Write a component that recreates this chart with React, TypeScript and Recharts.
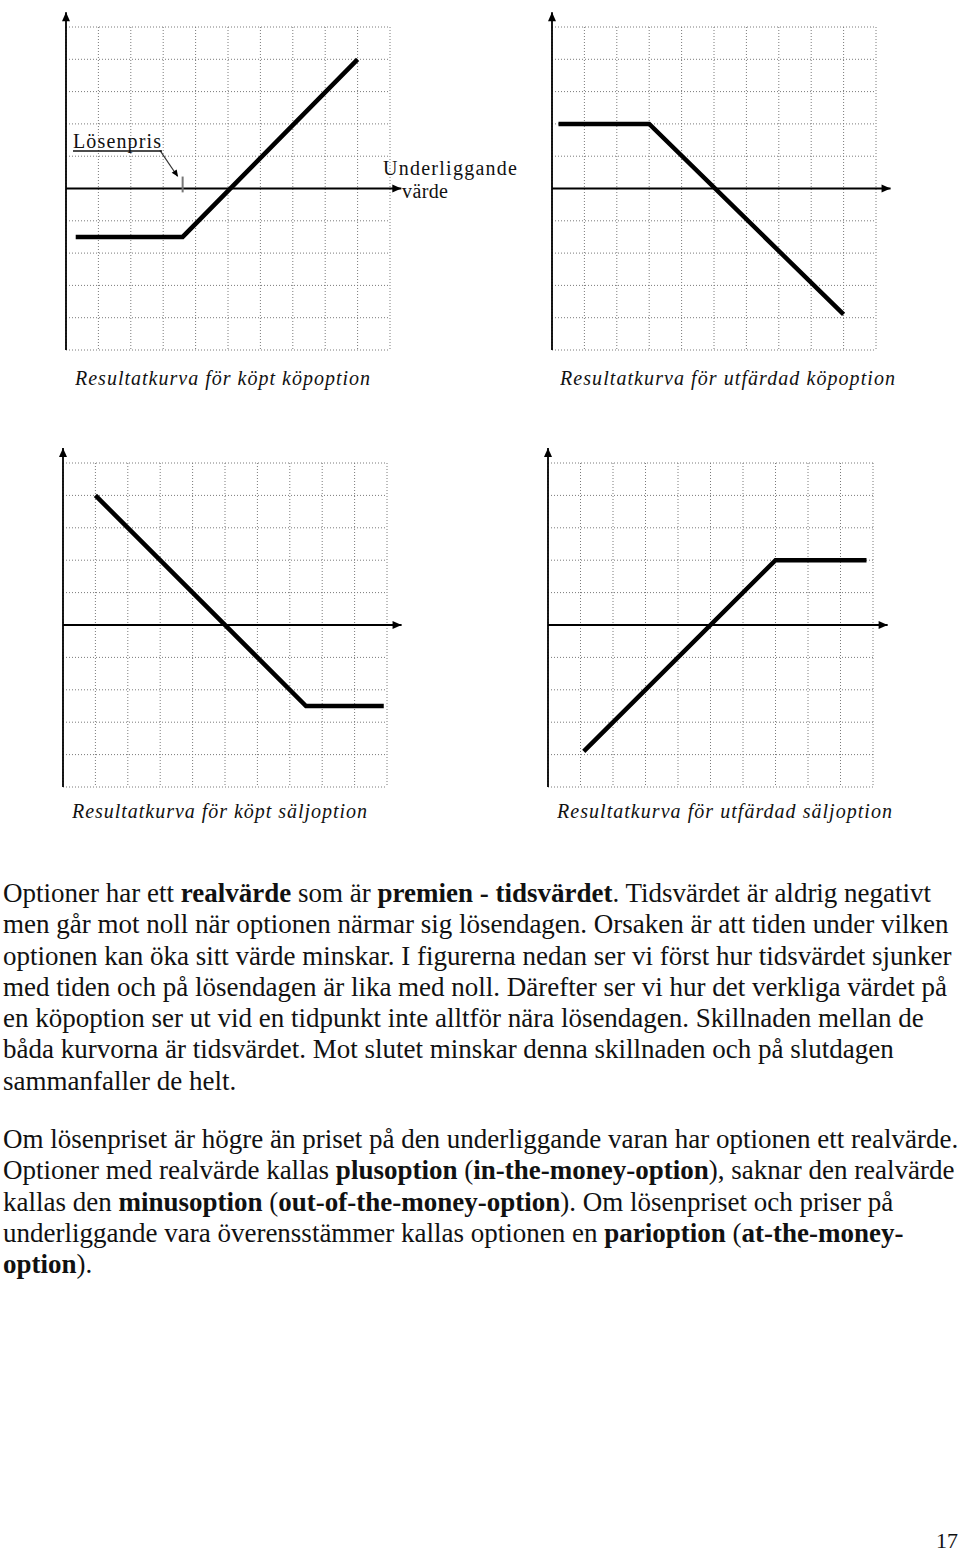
import React from 'react';
import {
  LineChart,
  Line,
  XAxis,
  YAxis,
  CartesianGrid,
  ReferenceLine,
  ReferenceDot
} from 'recharts';

// grid: 10 x 10 squares, zero line in the middle
const gridTicksX = [0, 1, 2, 3, 4, 5, 6, 7, 8, 9, 10];
const gridTicksY = [-5, -4, -3, -2, -1, 0, 1, 2, 3, 4, 5];

// köpt köpoption
const boughtCallX = [0.3, 3.6, 9.0];
const boughtCallY = [-1.5, -1.5, 4.0];
// utfärdad köpoption
const writtenCallX = [0.2, 3.0, 9.0];
const writtenCallY = [2.0, 2.0, -3.9];
// köpt säljoption
const boughtPutX = [1.0, 7.5, 9.9];
const boughtPutY = [4.0, -2.5, -2.5];
// utfärdad säljoption
const writtenPutX = [1.1, 7.0, 9.8];
const writtenPutY = [-3.9, 2.0, 2.0];

const strikeX = 3.6;

const captions = [
  'Resultatkurva för köpt köpoption',
  'Resultatkurva för utfärdad köpoption',
  'Resultatkurva för köpt säljoption',
  'Resultatkurva för utfärdad säljoption'
];

const toPoints = (xs: number[], ys: number[]) => xs.map((x, i) => ({ x, y: ys[i] }));

const M = 20;

const ArrowHead = (angle: number, len = 9, half = 4) => (props: any) => {
  const { cx, cy } = props;
  if (cx == null || cy == null) return null;
  return (
    <polygon
      points={`0,0 ${-len},${-half} ${-len},${half}`}
      transform={`translate(${cx},${cy}) rotate(${angle})`}
      fill="#000"
    />
  );
};

interface ChartProps {
  left: number;
  top: number;
  w: number;
  h: number;
  xs: number[];
  ys: number[];
  xArrow: number;
  strike?: boolean;
}

const PayoffChart: React.FC<ChartProps> = ({ left, top, w, h, xs, ys, xArrow, strike }) => (
  <div style={{ position: 'absolute', left: left - M, top: top - M }}>
    <LineChart
      width={w + 2 * M}
      height={h + 2 * M}
      data={toPoints(xs, ys)}
      margin={{ top: M, right: M, bottom: M, left: M }}
    >
      <XAxis type="number" dataKey="x" domain={[0, 10]} ticks={gridTicksX} hide allowDataOverflow />
      <YAxis type="number" dataKey="y" domain={[-5, 5]} ticks={gridTicksY} hide allowDataOverflow />
      <CartesianGrid stroke="#7a7a7a" strokeDasharray="1 2" />
      <ReferenceLine
        segment={[{ x: 0, y: 0 }, { x: xArrow, y: 0 }]}
        stroke="#000"
        strokeWidth={1.8}
        ifOverflow="visible"
      />
      <ReferenceLine
        segment={[{ x: 0, y: -5 }, { x: 0, y: 5.46 }]}
        stroke="#000"
        strokeWidth={1.8}
        ifOverflow="visible"
      />
      <ReferenceDot x={xArrow} y={0} ifOverflow="visible" shape={ArrowHead(0)} />
      <ReferenceDot x={0} y={5.46} ifOverflow="visible" shape={ArrowHead(-90)} />
      {strike && (
        <ReferenceLine
          segment={[{ x: strikeX, y: -0.12 }, { x: strikeX, y: 0.37 }]}
          stroke="#777"
          strokeWidth={2}
          ifOverflow="visible"
        />
      )}
      {strike && (
        <ReferenceLine
          segment={[{ x: 2.9, y: 1.18 }, { x: 3.44, y: 0.38 }]}
          stroke="#333"
          strokeWidth={1.2}
          ifOverflow="visible"
        />
      )}
      {strike && (
        <ReferenceDot x={3.46} y={0.36} ifOverflow="visible" shape={ArrowHead(56, 7, 3)} />
      )}
      <Line
        type="linear"
        dataKey="y"
        stroke="#000"
        strokeWidth={4.5}
        dot={false}
        activeDot={false}
        isAnimationActive={false}
      />
    </LineChart>
  </div>
);

const Caption: React.FC<{ x: number; y: number; w: number; text: string }> = ({ x, y, w, text }) => (
  <svg style={{ position: 'absolute', left: x, top: y - 20 }} width={w + 4} height={28}>
    <text
      x={0}
      y={20}
      textLength={w}
      lengthAdjust="spacing"
      fontFamily="'Liberation Serif', serif"
      fontStyle="italic"
      fontSize={20}
      fill="#111"
    >
      {text}
    </text>
  </svg>
);

const lineStyle: React.CSSProperties = { whiteSpace: 'nowrap' };

export default function App() {
  return (
    <div
      style={{
        position: 'absolute',
        left: 0,
        top: 0,
        width: 960,
        height: 1554,
        background: '#fff',
        overflow: 'hidden',
        fontFamily: "'Liberation Serif', 'Times New Roman', serif",
        color: '#111'
      }}
    >
      <PayoffChart left={66} top={27} w={324} h={323} xs={boughtCallX} ys={boughtCallY} xArrow={10.35} strike />
      <PayoffChart left={552} top={27} w={324} h={323} xs={writtenCallX} ys={writtenCallY} xArrow={10.45} />
      <PayoffChart left={63} top={463} w={324} h={324} xs={boughtPutX} ys={boughtPutY} xArrow={10.45} />
      <PayoffChart left={548} top={463} w={325} h={324} xs={writtenPutX} ys={writtenPutY} xArrow={10.45} />

      {/* labels on the first chart */}
      <svg style={{ position: 'absolute', left: 70, top: 128 }} width={100} height={26}>
        <text x={3} y={20} textLength={88} lengthAdjust="spacing" fontSize={20} fontFamily="'Liberation Serif', serif" fill="#111">
          Lösenpris
        </text>
        <line x1={3} y1={23} x2={92} y2={23} stroke="#111" strokeWidth={1.3} />
      </svg>
      <svg style={{ position: 'absolute', left: 380, top: 154 }} width={145} height={50}>
        <text x={3} y={21} textLength={134} lengthAdjust="spacing" fontSize={20} fontFamily="'Liberation Serif', serif" fill="#111">
          Underliggande
        </text>
        <text x={22} y={44} textLength={46} lengthAdjust="spacing" fontSize={20} fontFamily="'Liberation Serif', serif" fill="#111">
          värde
        </text>
      </svg>

      <Caption x={75} y={385} w={295} text={captions[0]} />
      <Caption x={560} y={385} w={335} text={captions[1]} />
      <Caption x={72} y={818} w={295} text={captions[2]} />
      <Caption x={557} y={818} w={335} text={captions[3]} />

      <div style={{ position: 'absolute', left: 3, top: 878, fontSize: 27, lineHeight: '31.3px' }}>
        <div style={lineStyle}>
          Optioner har ett <b>realvärde</b> som är <b>premien - tidsvärdet</b>. Tidsvärdet är aldrig negativt
        </div>
        <div style={lineStyle}>men går mot noll när optionen närmar sig lösendagen. Orsaken är att tiden under vilken</div>
        <div style={lineStyle}>optionen kan öka sitt värde minskar. I figurerna nedan ser vi först hur tidsvärdet sjunker</div>
        <div style={lineStyle}>med tiden och på lösendagen är lika med noll. Därefter ser vi hur det verkliga värdet på</div>
        <div style={lineStyle}>en köpoption ser ut vid en tidpunkt inte alltför nära lösendagen. Skillnaden mellan de</div>
        <div style={lineStyle}>båda kurvorna är tidsvärdet. Mot slutet minskar denna skillnaden och på slutdagen</div>
        <div style={lineStyle}>sammanfaller de helt.</div>
      </div>

      <div style={{ position: 'absolute', left: 3, top: 1124, fontSize: 27, lineHeight: '31.3px' }}>
        <div style={lineStyle}>Om lösenpriset är högre än priset på den underliggande varan har optionen ett realvärde.</div>
        <div style={lineStyle}>
          Optioner med realvärde kallas <b>plusoption</b> (<b>in-the-money-option</b>), saknar den realvärde
        </div>
        <div style={lineStyle}>
          kallas den <b>minusoption</b> (<b>out-of-the-money-option</b>). Om lösenpriset och priser på
        </div>
        <div style={lineStyle}>
          underliggande vara överensstämmer kallas optionen en <b>parioption</b> (<b>at-the-money-</b>
        </div>
        <div style={lineStyle}>
          <b>option</b>).
        </div>
      </div>

      <div style={{ position: 'absolute', left: 936, top: 1530, fontSize: 22, lineHeight: '22px' }}>17</div>
    </div>
  );
}
